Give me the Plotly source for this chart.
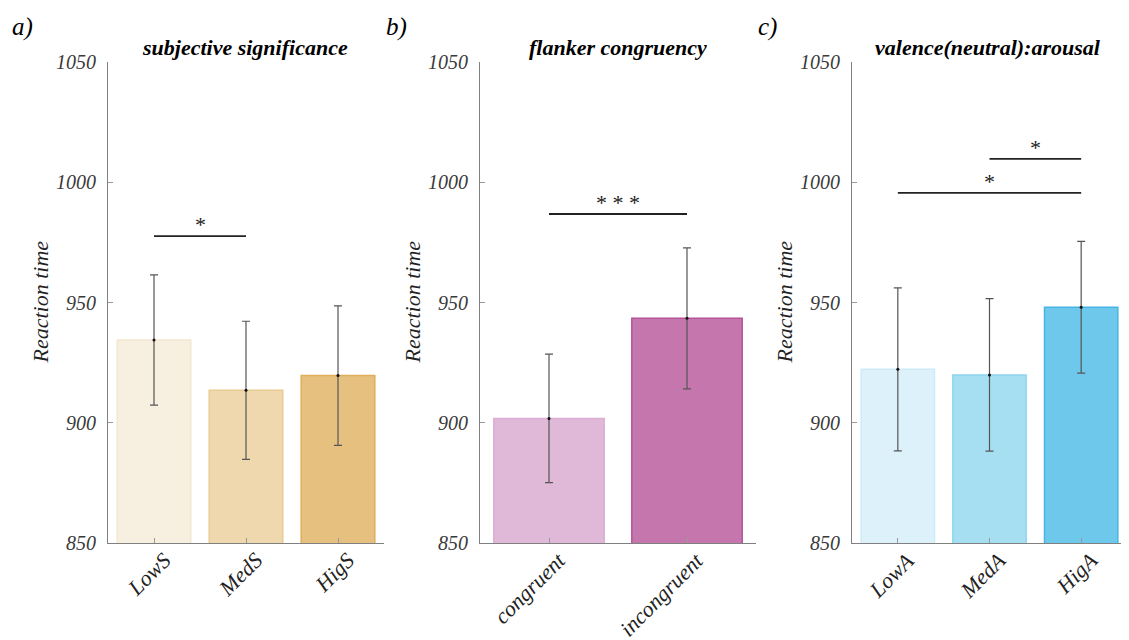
import plotly.graph_objects as go

# Panel a: subjective significance
cats_a = ["LowS", "MedS", "HigS"]
vals_a = [934.4, 913.5, 919.6]
err_a = [27.1, 28.7, 29.0]
fill_a = ["#f7f0e1", "#efd8ad", "#e6c07f"]
edge_a = ["#f3e8d0", "#e9cc94", "#dfae5a"]

# Panel b: flanker congruency
cats_b = ["congruent", "incongruent"]
vals_b = [901.8, 943.4]
err_b = [26.7, 29.3]
fill_b = ["#e0b8d8", "#c577ad"]
edge_b = ["#dcaed3", "#b5529a"]

# Panel c: valence(neutral):arousal
cats_c = ["LowA", "MedA", "HigA"]
vals_c = [922.2, 919.9, 948.0]
err_c = [33.9, 31.7, 27.4]
fill_c = ["#dcf1fa", "#a7dff2", "#6dc8eb"]
edge_c = ["#cdebf8", "#8fd5ef", "#45b6e4"]

titles = ["subjective significance", "flanker congruency", "valence(neutral):arousal"]
letters = ["a)", "b)", "c)"]
yticks = [850, 900, 950, 1000, 1050]
ylabel = "Reaction time"

# significance brackets: (panel, x0, x1, y, label)
sig = [
    (0, 0, 1, 977.6, "*"),
    (1, 0, 1, 986.8, "* * *"),
    (2, 1, 2, 1009.7, "*"),
    (2, 0, 2, 995.6, "*"),
]

OFF = 8  # default page body margin
W, H = 1129 - OFF, 640 - OFF
y_top, y_bot = 62 - OFF, 543 - OFF
x_doms = [(108 - OFF, 384 - OFF), (480 - OFF, 756 - OFF), (852 - OFF, 1127 - OFF)]

panels = [(cats_a, vals_a, err_a, fill_a, edge_a),
          (cats_b, vals_b, err_b, fill_b, edge_b),
          (cats_c, vals_c, err_c, fill_c, edge_c)]

SERIF = "Liberation Serif"
fig = go.Figure()
ytickfont = dict(family=SERIF, size=20, color="#3a3a3a", style="italic")
xtickfont = dict(family=SERIF, size=22, color="#222222", style="italic")
annotations = []
shapes = []
for i, (cats, vals, errs, fills, edges) in enumerate(panels):
    xa = "x" if i == 0 else f"x{i+1}"
    ya = "y" if i == 0 else f"y{i+1}"
    xs = list(range(len(cats)))
    fig.add_trace(go.Bar(x=xs, y=vals, width=0.8,
                         marker=dict(color=fills, line=dict(color=edges, width=1.5)),
                         xaxis=xa, yaxis=ya, showlegend=False))
    fig.add_trace(go.Scatter(x=xs, y=vals, mode="markers",
                             marker=dict(color="#111111", size=3),
                             error_y=dict(type="data", array=errs, color="#555555",
                                          thickness=1.2, width=4),
                             xaxis=xa, yaxis=ya, showlegend=False))
    d0, d1 = x_doms[i]
    xkey = "xaxis" if i == 0 else f"xaxis{i+1}"
    ykey = "yaxis" if i == 0 else f"yaxis{i+1}"
    fig.update_layout(**{
        xkey: dict(domain=[d0 / W, d1 / W], anchor=ya, range=[-0.5, len(cats) - 0.5],
                   tickvals=xs, showticklabels=False, ticks="inside", ticklen=5,
                   tickcolor="#999999", showline=True, linecolor="#808080", linewidth=1.2,
                   showgrid=False, zeroline=False, automargin=False),
        ykey: dict(domain=[1 - y_bot / H, 1 - y_top / H], anchor=xa, range=[850, 1050],
                   tickvals=yticks, ticks="inside", ticklen=5, tickcolor="#999999",
                   showline=True, linecolor="#808080", linewidth=1.2, showgrid=False,
                   zeroline=False, tickfont=ytickfont, automargin=False,
                   ticklabelstandoff=7),
    })
    # rotated category labels (top-right end just right of each tick)
    for xv, c in zip(xs, cats):
        annotations.append(dict(x=xv, y=1 - (545 - OFF) / H, xref=xa, yref="paper",
                                text=c, textangle=-45, showarrow=False,
                                xanchor="right", yanchor="top", xshift=24,
                                font=xtickfont))
    # y-axis title
    annotations.append(dict(x=(d0 - 68) / W, y=1 - ((y_top + y_bot) / 2) / H,
                            xref="paper", yref="paper", text=ylabel, textangle=-90,
                            showarrow=False, xanchor="center", yanchor="middle",
                            font=dict(family=SERIF, size=22, color="#222222",
                                      style="italic")))

title_x = [245, 618, 988]
letter_x = [10, 384, 756]
for i in range(3):
    annotations.append(dict(x=(title_x[i] - OFF) / W, y=1 - (47 - OFF) / H,
                            xref="paper", yref="paper",
                            text=f"<b><i>{titles[i]}</i></b>", showarrow=False,
                            font=dict(family=SERIF, size=22, color="#000000"),
                            xanchor="center", yanchor="middle"))
    annotations.append(dict(x=(letter_x[i] - OFF) / W, y=1 - (27 - OFF) / H,
                            xref="paper", yref="paper",
                            text=f"<i>{letters[i]}</i>", showarrow=False,
                            font=dict(family=SERIF, size=25, color="#000000"),
                            xanchor="left", yanchor="middle"))

for p, x0, x1, yv, lab in sig:
    xa = "x" if p == 0 else f"x{p+1}"
    ya = "y" if p == 0 else f"y{p+1}"
    shapes.append(dict(type="line", xref=xa, yref=ya, x0=x0, x1=x1, y0=yv, y1=yv,
                       line=dict(color="#222222", width=1.8)))
    annotations.append(dict(x=(x0 + x1) / 2, y=yv, xref=xa, yref=ya, text=lab,
                            showarrow=False, yanchor="bottom", yshift=-3,
                            font=dict(family=SERIF, size=22, color="#222222")))

fig.update_layout(width=W, height=H, margin=dict(l=0, r=0, t=0, b=0, autoexpand=False),
                  plot_bgcolor="white", paper_bgcolor="white", bargap=0.2,
                  annotations=annotations, shapes=shapes)

fig.write_html("out.html")
